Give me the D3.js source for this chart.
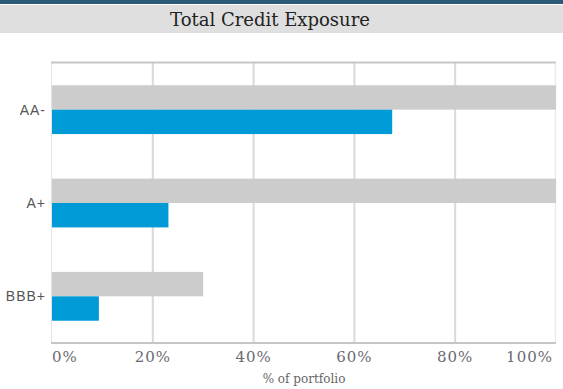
<!DOCTYPE html>
<html>
<head>
<meta charset="utf-8">
<script src="https://cdn.jsdelivr.net/npm/d3@7/dist/d3.min.js"></script>
<style>
  html, body { margin: 0; padding: 0; background: #fff; }
  svg { display: block; }
</style>
</head>
<body>
<svg id="chart" width="563" height="389"></svg>
<script>
// Credit ratings and the two exposure measures per rating (% of portfolio)
const ratings = ["AA-", "A+", "BBB+"];
const totalExposure = [100, 100, 30];
const portfolioShare = [67.5, 23.1, 9.3];
const xTicks = [0, 20, 40, 60, 80, 100];
const title = "Total Credit Exposure";
const xAxisTitle = "% of portfolio";

const W = 563, H = 389;
const plot = { left: 52, right: 556, top: 63, bottom: 343 };

const svg = d3.select("#chart");

// header: dark strip and grey title band
svg.append("rect").attr("x", 0).attr("y", 0).attr("width", W).attr("height", 4).attr("fill", "#2e5a7a");
svg.append("rect").attr("x", 0).attr("y", 5).attr("width", W).attr("height", 28).attr("fill", "#dfdfdf");
svg.append("text")
  .attr("x", 270).attr("y", 26)
  .attr("text-anchor", "middle")
  .attr("font-family", "DejaVu Serif")
  .attr("font-size", 18)
  .attr("fill", "#222")
  .text(title);

const x = d3.scaleLinear().domain([0, 100]).range([plot.left, plot.right]);
const y = d3.scaleBand().domain(ratings).range([plot.top, plot.bottom])
  .paddingInner(0.477).paddingOuter(0.2385);
const sub = d3.scaleBand().domain(["total", "share"]).range([0, y.bandwidth()]);

// vertical gridlines
svg.append("g").selectAll("line").data(xTicks.slice(1, -1)).join("line")
  .attr("x1", d => x(d)).attr("x2", d => x(d))
  .attr("y1", plot.top).attr("y2", plot.bottom)
  .attr("stroke", "#d9d9d9").attr("stroke-width", 2);

// frame
svg.append("line").attr("x1", plot.left - 0.5).attr("x2", plot.left - 0.5)
  .attr("y1", plot.top).attr("y2", plot.bottom).attr("stroke", "#e2e2e2").attr("stroke-width", 1);
svg.append("line").attr("x1", plot.right - 0.5).attr("x2", plot.right - 0.5)
  .attr("y1", plot.top).attr("y2", plot.bottom).attr("stroke", "#ececec").attr("stroke-width", 1.5);
svg.append("line").attr("x1", plot.left - 1).attr("x2", plot.right)
  .attr("y1", plot.top - 0.5).attr("y2", plot.top - 0.5).attr("stroke", "#c6c6c6").attr("stroke-width", 2);

// bars
const groups = svg.append("g").selectAll("g").data(ratings).join("g")
  .attr("transform", d => `translate(0,${y(d)})`);
groups.append("rect")
  .attr("x", x(0)).attr("y", sub("total"))
  .attr("width", (d, i) => x(totalExposure[i]) - x(0))
  .attr("height", sub.bandwidth())
  .attr("fill", "#cccccc");
groups.append("rect")
  .attr("x", x(0)).attr("y", sub("share"))
  .attr("width", (d, i) => x(portfolioShare[i]) - x(0))
  .attr("height", sub.bandwidth())
  .attr("fill", "#009bd6");

// x axis line
svg.append("line").attr("x1", plot.left - 1).attr("x2", plot.right)
  .attr("y1", plot.bottom).attr("y2", plot.bottom)
  .attr("stroke", "#c6c6c6").attr("stroke-width", 2);

// x tick labels, end labels kept inside the plot width
svg.append("g").selectAll("text").data(xTicks).join("text")
  .attr("x", (d, i) => i === 0 ? x(d) : i === xTicks.length - 1 ? x(d) - 3 : x(d))
  .attr("y", 362)
  .attr("text-anchor", (d, i) => i === 0 ? "start" : i === xTicks.length - 1 ? "end" : "middle")
  .attr("font-family", "DejaVu Serif")
  .attr("font-size", 15)
  .attr("letter-spacing", 1)
  .attr("fill", "#6a6a72")
  .text(d => d + "%");

svg.append("text")
  .attr("x", (plot.left + plot.right) / 2).attr("y", 383)
  .attr("text-anchor", "middle")
  .attr("font-family", "DejaVu Serif")
  .attr("font-size", 12)
  .attr("fill", "#666")
  .text(xAxisTitle);

// rating labels
svg.append("g").selectAll("text").data(ratings).join("text")
  .attr("x", 46)
  .attr("y", d => y(d) + y.bandwidth() / 2)
  .attr("dy", "0.35em")
  .attr("text-anchor", "end")
  .attr("font-family", "'Liberation Sans', Arial, sans-serif")
  .attr("font-size", 14)
  .attr("letter-spacing", 1)
  .attr("fill", "#555")
  .text(d => d);
</script>
</body>
</html>
